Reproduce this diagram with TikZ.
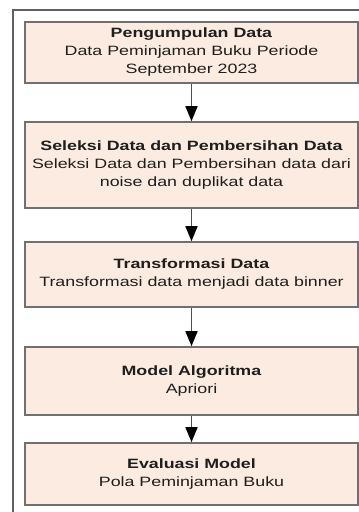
\documentclass[tikz,border=0pt]{standalone}
\usepackage{fontspec}
\setmainfont{Liberation Sans}[FakeStretch=1.32]
\usetikzlibrary{arrows.meta}
\definecolor{boxfill}{HTML}{FCEBE0}
\definecolor{boxline}{HTML}{707070}
\definecolor{frameline}{HTML}{606060}
\definecolor{txt}{HTML}{1E1E1E}
\definecolor{arrline}{HTML}{505050}
\begin{document}
\begin{tikzpicture}[x=1pt,y=-1pt,
  stepbox/.style={draw=boxline,fill=boxfill,line width=1.6pt,minimum width=333pt,
    inner sep=0pt,align=center,text=txt,
    font=\fontsize{13.5}{18}\selectfont},
  arr/.style={draw=arrline,line width=1.6pt,-{Triangle[length=15pt,width=12pt,fill=black,color=black]}}]
\useasboundingbox (0,0) rectangle (359,512);
\draw[frameline,line width=1.5pt] (13,520) -- (13,10) -- (370,10);
\node[stepbox,minimum height=61pt] (b1) at (191.5,52.5)
  {\textbf{Pengumpulan Data}\\Data Peminjaman Buku Periode\\September 2023};
\node[stepbox,minimum height=86pt] (b2) at (191.5,165)
  {\textbf{Seleksi Data dan Pembersihan Data}\\Seleksi Data dan Pembersihan data dari\\noise dan duplikat data};
\node[stepbox,minimum height=65pt] (b3) at (191.5,274.5)
  {\textbf{Transformasi Data}\\Transformasi data menjadi data binner};
\node[stepbox,minimum height=68pt] (b4) at (191.5,381)
  {\textbf{Model Algoritma}\\Apriori};
\node[stepbox,minimum height=62pt] (b5) at (191.5,474)
  {\textbf{Evaluasi Model}\\Pola Peminjaman Buku};
\draw[arr] (b1) -- (b2);
\draw[arr] (b2) -- (b3);
\draw[arr] (b3) -- (b4);
\draw[arr] (b4) -- (b5);
\end{tikzpicture}
\end{document}
